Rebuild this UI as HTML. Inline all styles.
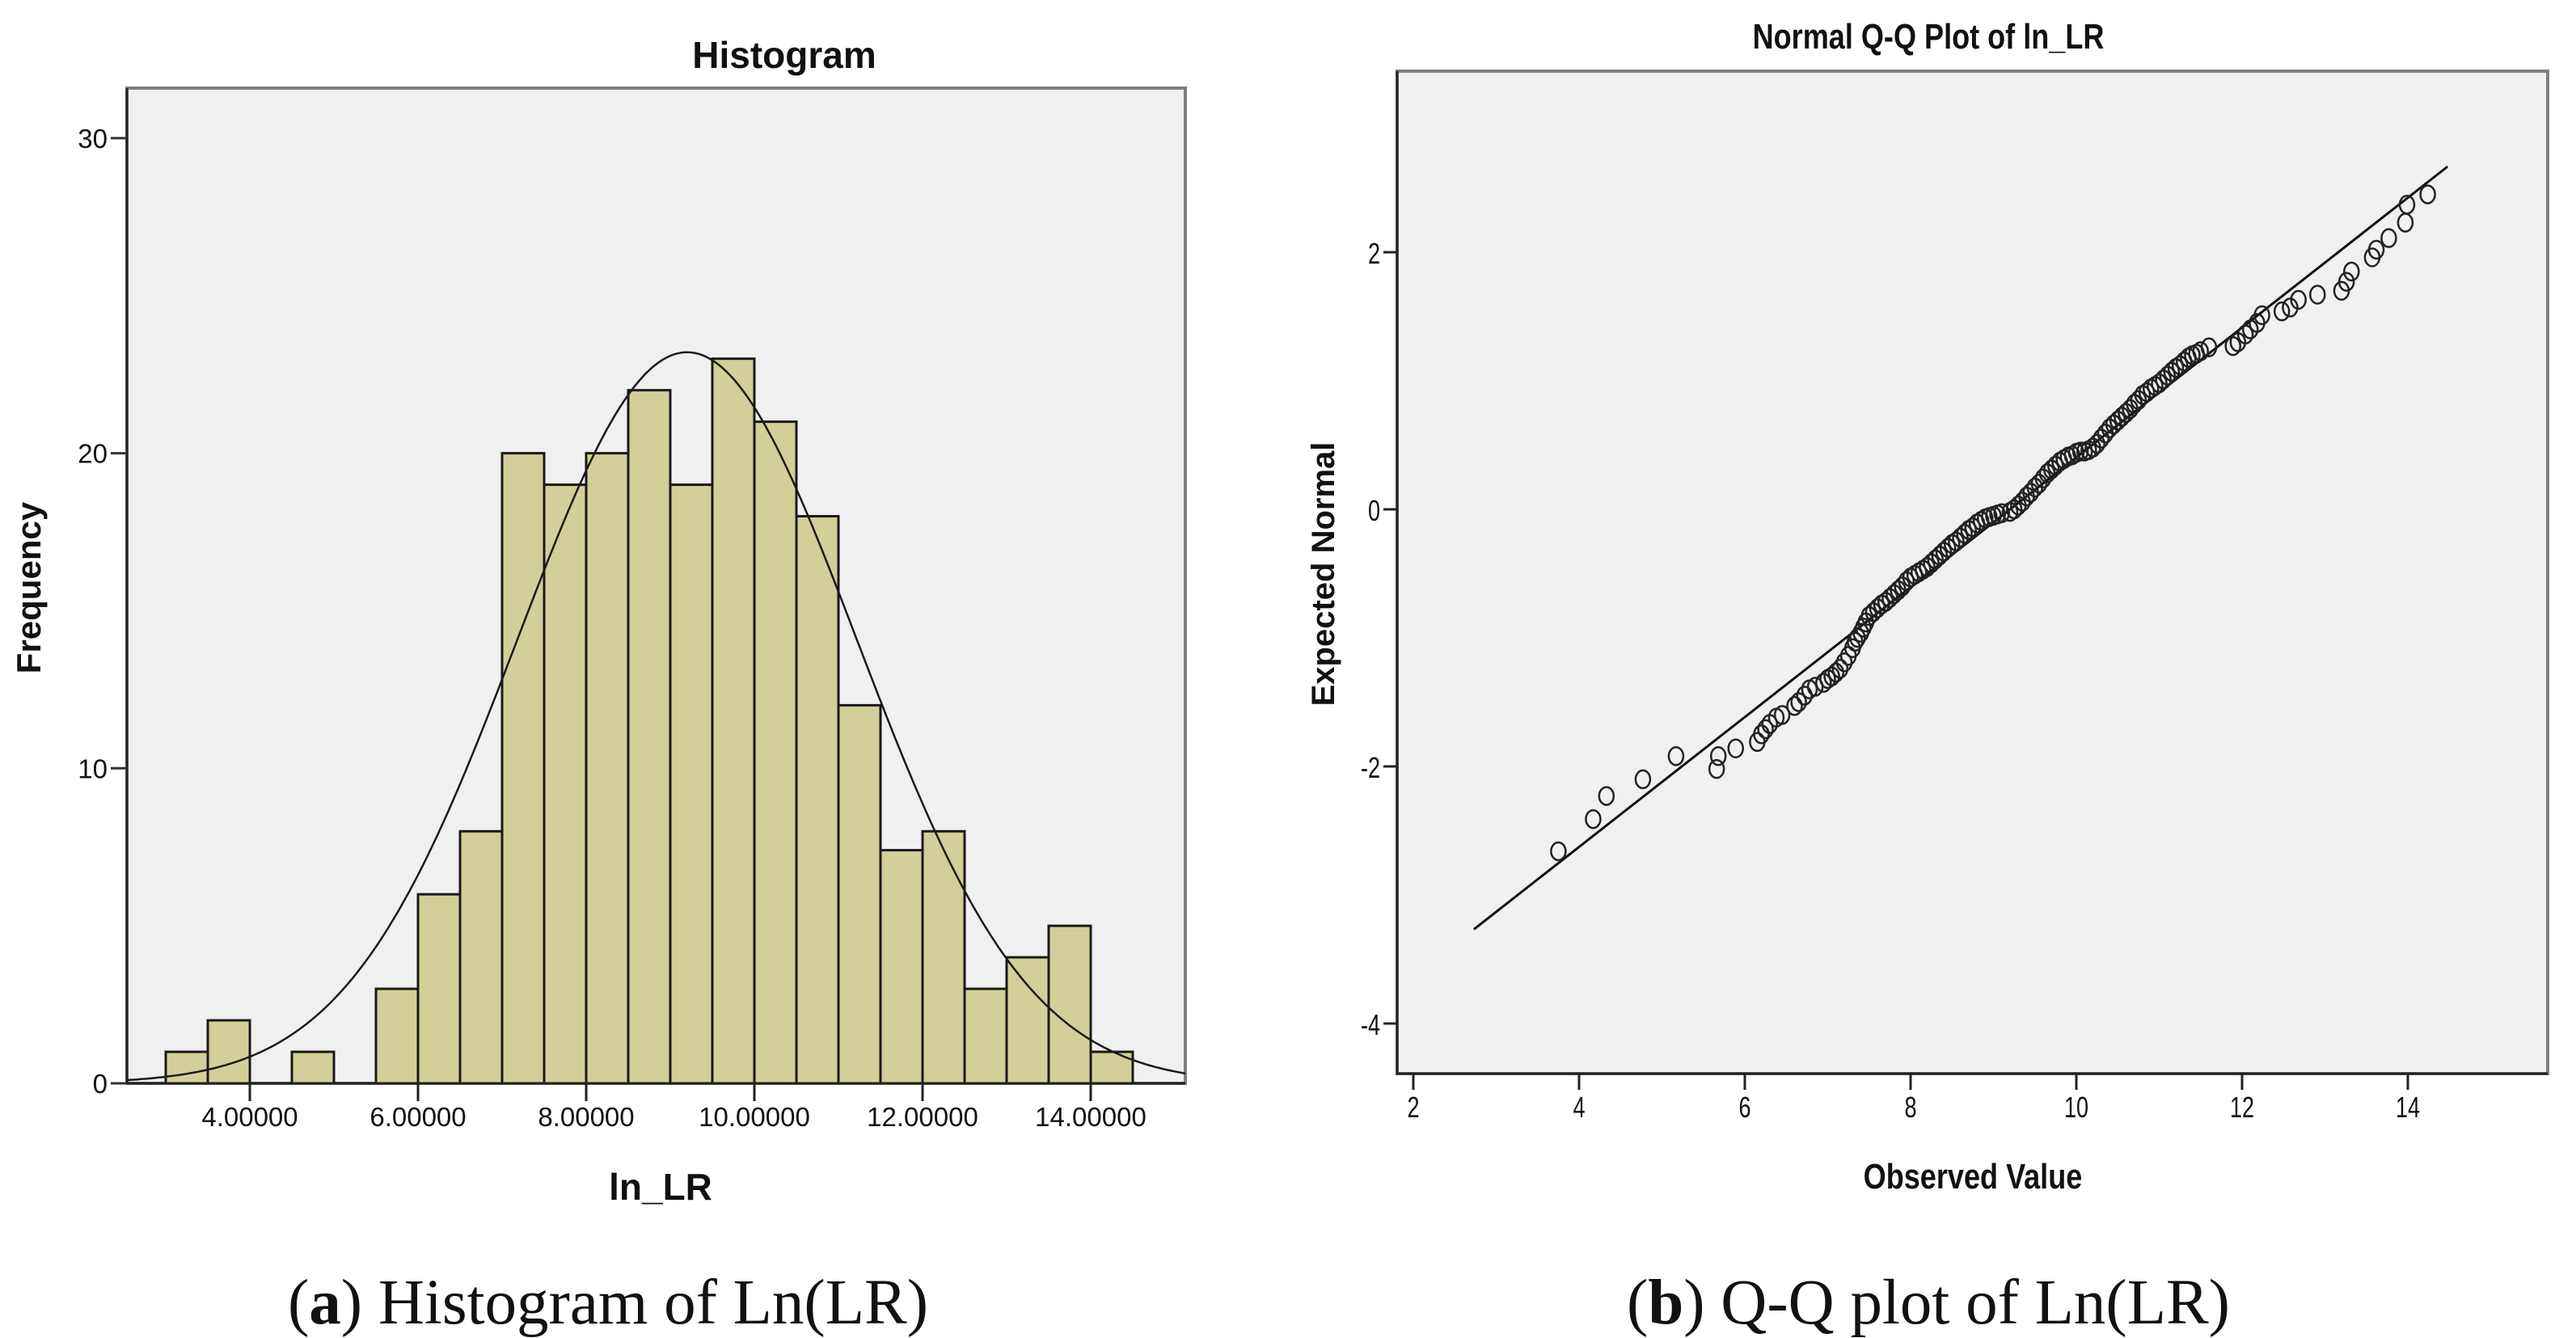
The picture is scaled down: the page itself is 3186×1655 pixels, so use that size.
<!DOCTYPE html>
<html><head><meta charset="utf-8">
<style>
html,body{margin:0;padding:0;background:#fff;}
svg{display:block;}
</style></head>
<body>
<svg id="fig" width="3186" height="1655" viewBox="0 0 3186 1655" xmlns="http://www.w3.org/2000/svg" font-family="Liberation Sans, sans-serif">
  <g id="hist"></g>
  <g id="qq"></g>
  <text x="752" y="1637" text-anchor="middle" font-family="Liberation Serif, serif" font-size="79" fill="#111">(<tspan font-weight="bold">a</tspan>) Histogram of Ln(LR)</text>
  <text x="2385" y="1637" text-anchor="middle" font-family="Liberation Serif, serif" font-size="79" fill="#111">(<tspan font-weight="bold">b</tspan>) Q-Q plot of Ln(LR)</text>
</svg>
<script>
// ---------- Histogram data ----------
const binStarts = [3.0,3.5,4.0,4.5,5.0,5.5,6.0,6.5,7.0,7.5,8.0,8.5,9.0,9.5,10.0,10.5,11.0,11.5,12.0,12.5,13.0,13.5,14.0];
const binCounts = [1,2,0,1,0,3,6,8,20,19,20,22,19,23,21,18,12,7.4,8,3,4,5,1];
const binWidth = 0.5;
const histXTicks = [4,6,8,10,12,14];
const histXTickLabels = ["4.00000","6.00000","8.00000","10.00000","12.00000","14.00000"];
const histYTicks = [0,10,20,30];
const normalMean = 9.2;
const normalSd = 2.02;
const normalN = 235;

// ---------- Q-Q data ----------
const qqObserved = [3.75,4.17,4.33,4.77,5.17,5.66,5.68,5.89,6.15,6.2,6.25,6.3,6.38,6.45,6.6,6.65,6.72,6.78,6.85,6.95,7.0,7.05,7.1,7.15,7.2,7.25,7.3,7.33,7.36,7.4,7.43,7.46,7.5,7.55,7.6,7.65,7.7,7.75,7.8,7.85,7.9,7.95,8.0,8.05,8.1,8.15,8.2,8.25,8.3,8.35,8.4,8.45,8.5,8.55,8.6,8.65,8.7,8.75,8.8,8.85,8.9,8.95,9.0,9.05,9.1,9.2,9.25,9.3,9.35,9.4,9.45,9.5,9.55,9.6,9.65,9.7,9.75,9.8,9.85,9.9,9.95,10.0,10.05,10.1,10.15,10.2,10.25,10.3,10.35,10.4,10.45,10.5,10.55,10.6,10.65,10.7,10.75,10.8,10.85,10.9,10.95,11.0,11.05,11.1,11.15,11.2,11.25,11.3,11.35,11.4,11.45,11.5,11.6,11.89,11.95,12.04,12.1,12.18,12.24,12.48,12.58,12.68,12.91,13.2,13.26,13.32,13.57,13.62,13.77,13.97,13.99,14.24];
const qqExpected = [-2.66,-2.41,-2.23,-2.10,-1.92,-2.02,-1.92,-1.86,-1.81,-1.75,-1.71,-1.67,-1.62,-1.60,-1.53,-1.50,-1.45,-1.40,-1.38,-1.35,-1.32,-1.30,-1.27,-1.24,-1.19,-1.14,-1.08,-1.03,-1.00,-0.96,-0.92,-0.88,-0.83,-0.80,-0.77,-0.74,-0.72,-0.69,-0.66,-0.63,-0.60,-0.56,-0.53,-0.51,-0.49,-0.47,-0.45,-0.42,-0.39,-0.36,-0.33,-0.30,-0.27,-0.25,-0.22,-0.19,-0.16,-0.14,-0.11,-0.09,-0.07,-0.06,-0.05,-0.04,-0.03,-0.02,0.00,0.03,0.06,0.10,0.13,0.17,0.20,0.24,0.28,0.31,0.34,0.37,0.39,0.41,0.42,0.44,0.45,0.45,0.46,0.48,0.51,0.55,0.59,0.63,0.66,0.69,0.72,0.75,0.78,0.82,0.85,0.89,0.91,0.94,0.96,0.98,1.01,1.04,1.07,1.10,1.12,1.15,1.18,1.20,1.21,1.23,1.26,1.27,1.30,1.36,1.40,1.45,1.51,1.54,1.57,1.63,1.67,1.70,1.77,1.85,1.96,2.02,2.11,2.23,2.37,2.45];
const qqLineX = [2.73,14.48];
const qqXTicks = [2,4,6,8,10,12,14];
const qqYTicks = [2,0,-2,-4];

const NS = "http://www.w3.org/2000/svg";
function mk(parent, tag, attrs, text){
  const e = document.createElementNS(NS, tag);
  for (const k in attrs) e.setAttribute(k, attrs[k]);
  if (text !== undefined) e.textContent = text;
  parent.appendChild(e);
  return e;
}

// ---------- Histogram ----------
(function(){
  const g = document.getElementById('hist');
  const L=157, R=1466, T=109, B=1340;
  const X = v => 309 + (v - 4) * 104;
  const Y = v => B - v * 38.97;
  const xmin = 4 - (309-L)/104, xmax = 4 + (R-309)/104;
  const bg = mk(g,'rect',{x:L,y:T,width:R-L,height:B-T,fill:'#f0f0f0',stroke:'#7f7f7f','stroke-width':4});
  
  
  binStarts.forEach((s,i)=>{
    const c = binCounts[i];
    if (c <= 0) return;
    const r = mk(g,'rect',{x:X(s),y:Y(c),width:X(s+binWidth)-X(s),height:Y(0)-Y(c),fill:'#d3cf98',stroke:'#1a1a1a','stroke-width':3});
    
    
  });
  let d='';
  for (let i=0;i<=300;i++){
    const x = xmin + (xmax-xmin)*i/300;
    const y = normalN*binWidth/(normalSd*Math.sqrt(2*Math.PI))*Math.exp(-0.5*((x-normalMean)/normalSd)**2);
    d += (i?'L':'M')+X(x).toFixed(1)+','+Y(y).toFixed(1);
  }
  const cv = mk(g,'path',{d:d,fill:'none',stroke:'#1a1a1a','stroke-width':2.5});
  
  
  const ax = mk(g,'path',{d:`M${L},${T}L${L},${B}L${R},${B}`,fill:'none',stroke:'#222','stroke-width':3});
  
  
  histYTicks.forEach(v=>{
    const t = mk(g,'line',{x1:L-20,x2:L,y1:Y(v),y2:Y(v),stroke:'#333','stroke-width':3});
    
    
    const lb = mk(g,'text',{x:L-24,y:Y(v)+12,'text-anchor':'end','font-size':33,fill:'#111'},String(v));
    
    
  });
  histXTicks.forEach((v,i)=>{
    const t = mk(g,'line',{x1:X(v),x2:X(v),y1:B,y2:B+22,stroke:'#222','stroke-width':3});
    
    
    const lb = mk(g,'text',{x:X(v),y:1393,'text-anchor':'middle','font-size':33,fill:'#111'},histXTickLabels[i]);
    
    
  });
  const tt = mk(g,'text',{x:970,y:84,'text-anchor':'middle','font-size':46,'font-weight':'bold',fill:'#111'},'Histogram');
  
  
  const xt = mk(g,'text',{x:817,y:1484,'text-anchor':'middle','font-size':46,'font-weight':'bold',fill:'#111'},'ln_LR');
  
  
  const yt = mk(g,'text',{x:0,y:0,'text-anchor':'middle','font-size':42,'font-weight':'bold',fill:'#111',transform:'translate(50,727) rotate(-90)'},'Frequency');
  
  
})();

// ---------- Q-Q plot ----------
(function(){
  const g = document.getElementById('qq');
  const L=1728, R=3151, T=88, B=1328;
  const X = v => 1748 + (v - 2) * 102.5;
  const Y = v => 630 - v * 159;
  const bg = mk(g,'rect',{x:L,y:T,width:R-L,height:B-T,fill:'#f0f0f0',stroke:'#7f7f7f','stroke-width':4});
  
  
  const ln = mk(g,'line',{x1:X(qqLineX[0]),y1:Y((qqLineX[0]-normalMean)/1.98),x2:X(qqLineX[1]),y2:Y((qqLineX[1]-normalMean)/1.98),stroke:'#111','stroke-width':3});
  
  
  qqObserved.forEach((v,i)=>{
    const c = mk(g,'ellipse',{cx:X(v),cy:Y(qqExpected[i]),rx:9,ry:11,fill:'none',stroke:'#222','stroke-width':2.5});
    
    
  });
  const ax = mk(g,'path',{d:`M${L},${T}L${L},${B}L${R},${B}`,fill:'none',stroke:'#222','stroke-width':3});
  
  
  qqYTicks.forEach(v=>{
    const t = mk(g,'line',{x1:L-17,x2:L,y1:Y(v),y2:Y(v),stroke:'#222','stroke-width':3});
    
    
    const lb = mk(g,'text',{x:1707,y:Y(v)+14,'text-anchor':'end','font-size':36,fill:'#111',transform:`translate(1707,0) scale(0.75,1) translate(-1707,0)`},String(v));
    
    
  });
  qqXTicks.forEach(v=>{
    const t = mk(g,'line',{x1:X(v),x2:X(v),y1:B,y2:B+20,stroke:'#222','stroke-width':3});
    
    
    const lb = mk(g,'text',{x:X(v),y:1382,'text-anchor':'middle','font-size':36,fill:'#111',transform:`translate(${X(v)},0) scale(0.75,1) translate(${-X(v)},0)`},String(v));
    
    
  });
  const tt = mk(g,'text',{x:2385,y:60,'text-anchor':'middle','font-size':44,'font-weight':'bold',fill:'#111',transform:'translate(2385,0) scale(0.82,1) translate(-2385,0)'},'Normal Q-Q Plot of ln_LR');
  
  
  const xt = mk(g,'text',{x:2440,y:1470,'text-anchor':'middle','font-size':44,'font-weight':'bold',fill:'#111',transform:'translate(2440,0) scale(0.82,1) translate(-2440,0)'},'Observed Value');
  
  
  const yt = mk(g,'text',{x:0,y:0,'text-anchor':'middle','font-size':40,'font-weight':'bold',fill:'#111',transform:'translate(1650,710) rotate(-90)'},'Expected Normal');
  
  
})();
</script>
</body></html>
